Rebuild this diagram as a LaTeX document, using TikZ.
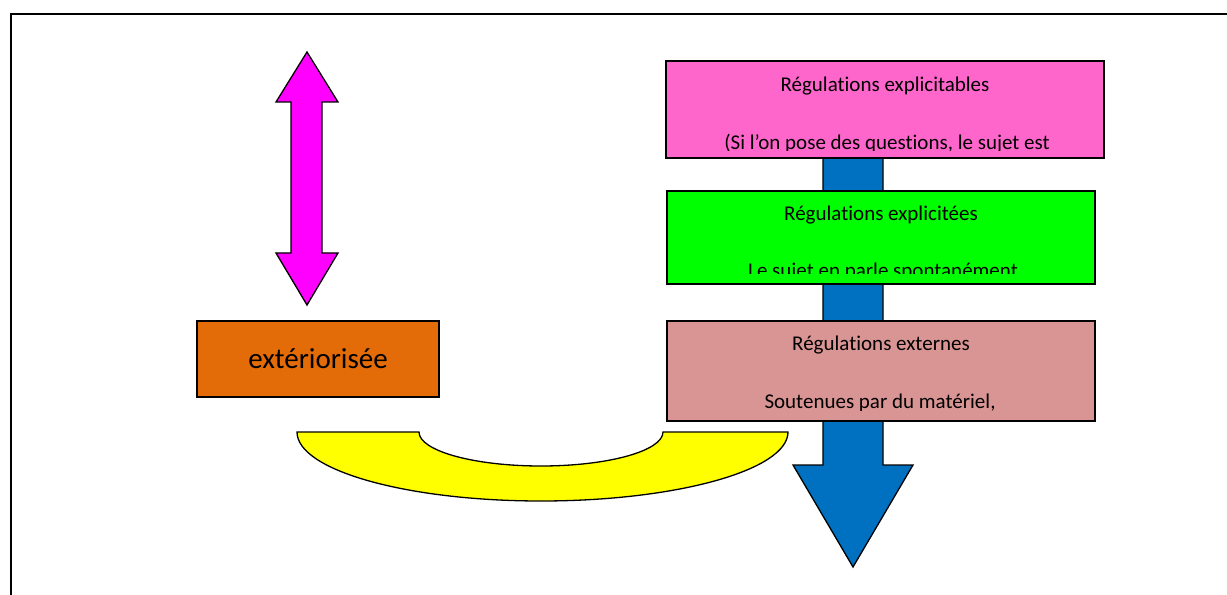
\documentclass[tikz,border=0pt]{standalone}
\usepackage{fontspec}
\setmainfont{Carlito}[Ligatures=NoCommon]
\definecolor{pinkfill}{HTML}{FF66CC}
\definecolor{greenfill}{HTML}{00FF00}
\definecolor{rosefill}{HTML}{D99594}
\definecolor{orangefill}{HTML}{E36C09}
\definecolor{bluefill}{HTML}{0070C0}
\definecolor{magentafill}{HTML}{FF00FF}
\definecolor{yellowfill}{HTML}{FFFF00}
\tikzset{
  regbox/.style={draw=black,line width=1.3bp,rectangle,inner sep=0pt},
  regtext/.style={anchor=base,inner sep=0pt,font=\fontsize{21bp}{25bp}\selectfont},
  bigarrow/.style={draw=black,line width=1.3bp},
}
\begin{document}
\begin{tikzpicture}[x=1bp,y=-1bp,line join=miter]
\useasboundingbox (0,0) rectangle (1227,595);
%%
\draw [line width=2bp] (11,605) -- (11,14) -- (1235,14);
%
\draw [bigarrow,fill=bluefill] (823,150) -- (883,150) -- (883,465) -- (913,465) -- (853,567) -- (793,465) -- (823,465) -- cycle;
\draw [bigarrow,fill=magentafill] (307,52) -- (338,102) -- (322,102) -- (322,253) -- (338,253) -- (307,305) -- (276,253) -- (291,253) -- (291,102) -- (276,102) -- cycle;
\draw [bigarrow,fill=yellowfill] (297,432) ..controls (297,470.1) and (406.2,501) .. (541,501)
  ..controls (676.3,501) and (788,470.1) .. (788,432) -- (663,432)
  ..controls (663,450.8) and (608.4,466) .. (541,466)
  ..controls (473.6,466) and (419,450.8) .. (419,432) -- cycle;
%
\node (explicitable) at (885,109.5) [regbox,fill=pinkfill,minimum width=438bp,minimum height=97bp] {};
\node (explicite) at (881,237.5) [regbox,fill=greenfill,minimum width=428bp,minimum height=93bp] {};
\node (externe) at (881,371) [regbox,fill=rosefill,minimum width=428bp,minimum height=100bp] {};
\node (exteriorisee) at (318,359) [regbox,fill=orangefill,minimum width=242bp,minimum height=76bp] {};
%
\node (explicitableTitle) at (885,92) [regtext] {Régulations explicitables};
\node (expliciteTitle) at (881,221) [regtext] {Régulations explicitées};
\node (externeTitle) at (881,351) [regtext] {Régulations externes};
\node (exterioriseeText) at (318,359) [regtext,anchor=center,font=\fontsize{29bp}{34bp}\selectfont] {extériorisée};
%
\begin{scope}
\clip (explicitable.north west) rectangle (1104,150.5);
\node (explicitableNote) at (887,150) [regtext] {(Si l’on pose des questions, le sujet est};
\end{scope}
\begin{scope}
\clip (explicite.north west) rectangle (1095,274);
\node (expliciteNote) at (883,278) [regtext] {Le sujet en parle spontanément};
\end{scope}
\begin{scope}
\clip (externe.north west) rectangle (1095,410.5);
\node (externeNote) at (880,408) [regtext] {Soutenues par du matériel,};
\end{scope}
%
\end{tikzpicture}
\end{document}
